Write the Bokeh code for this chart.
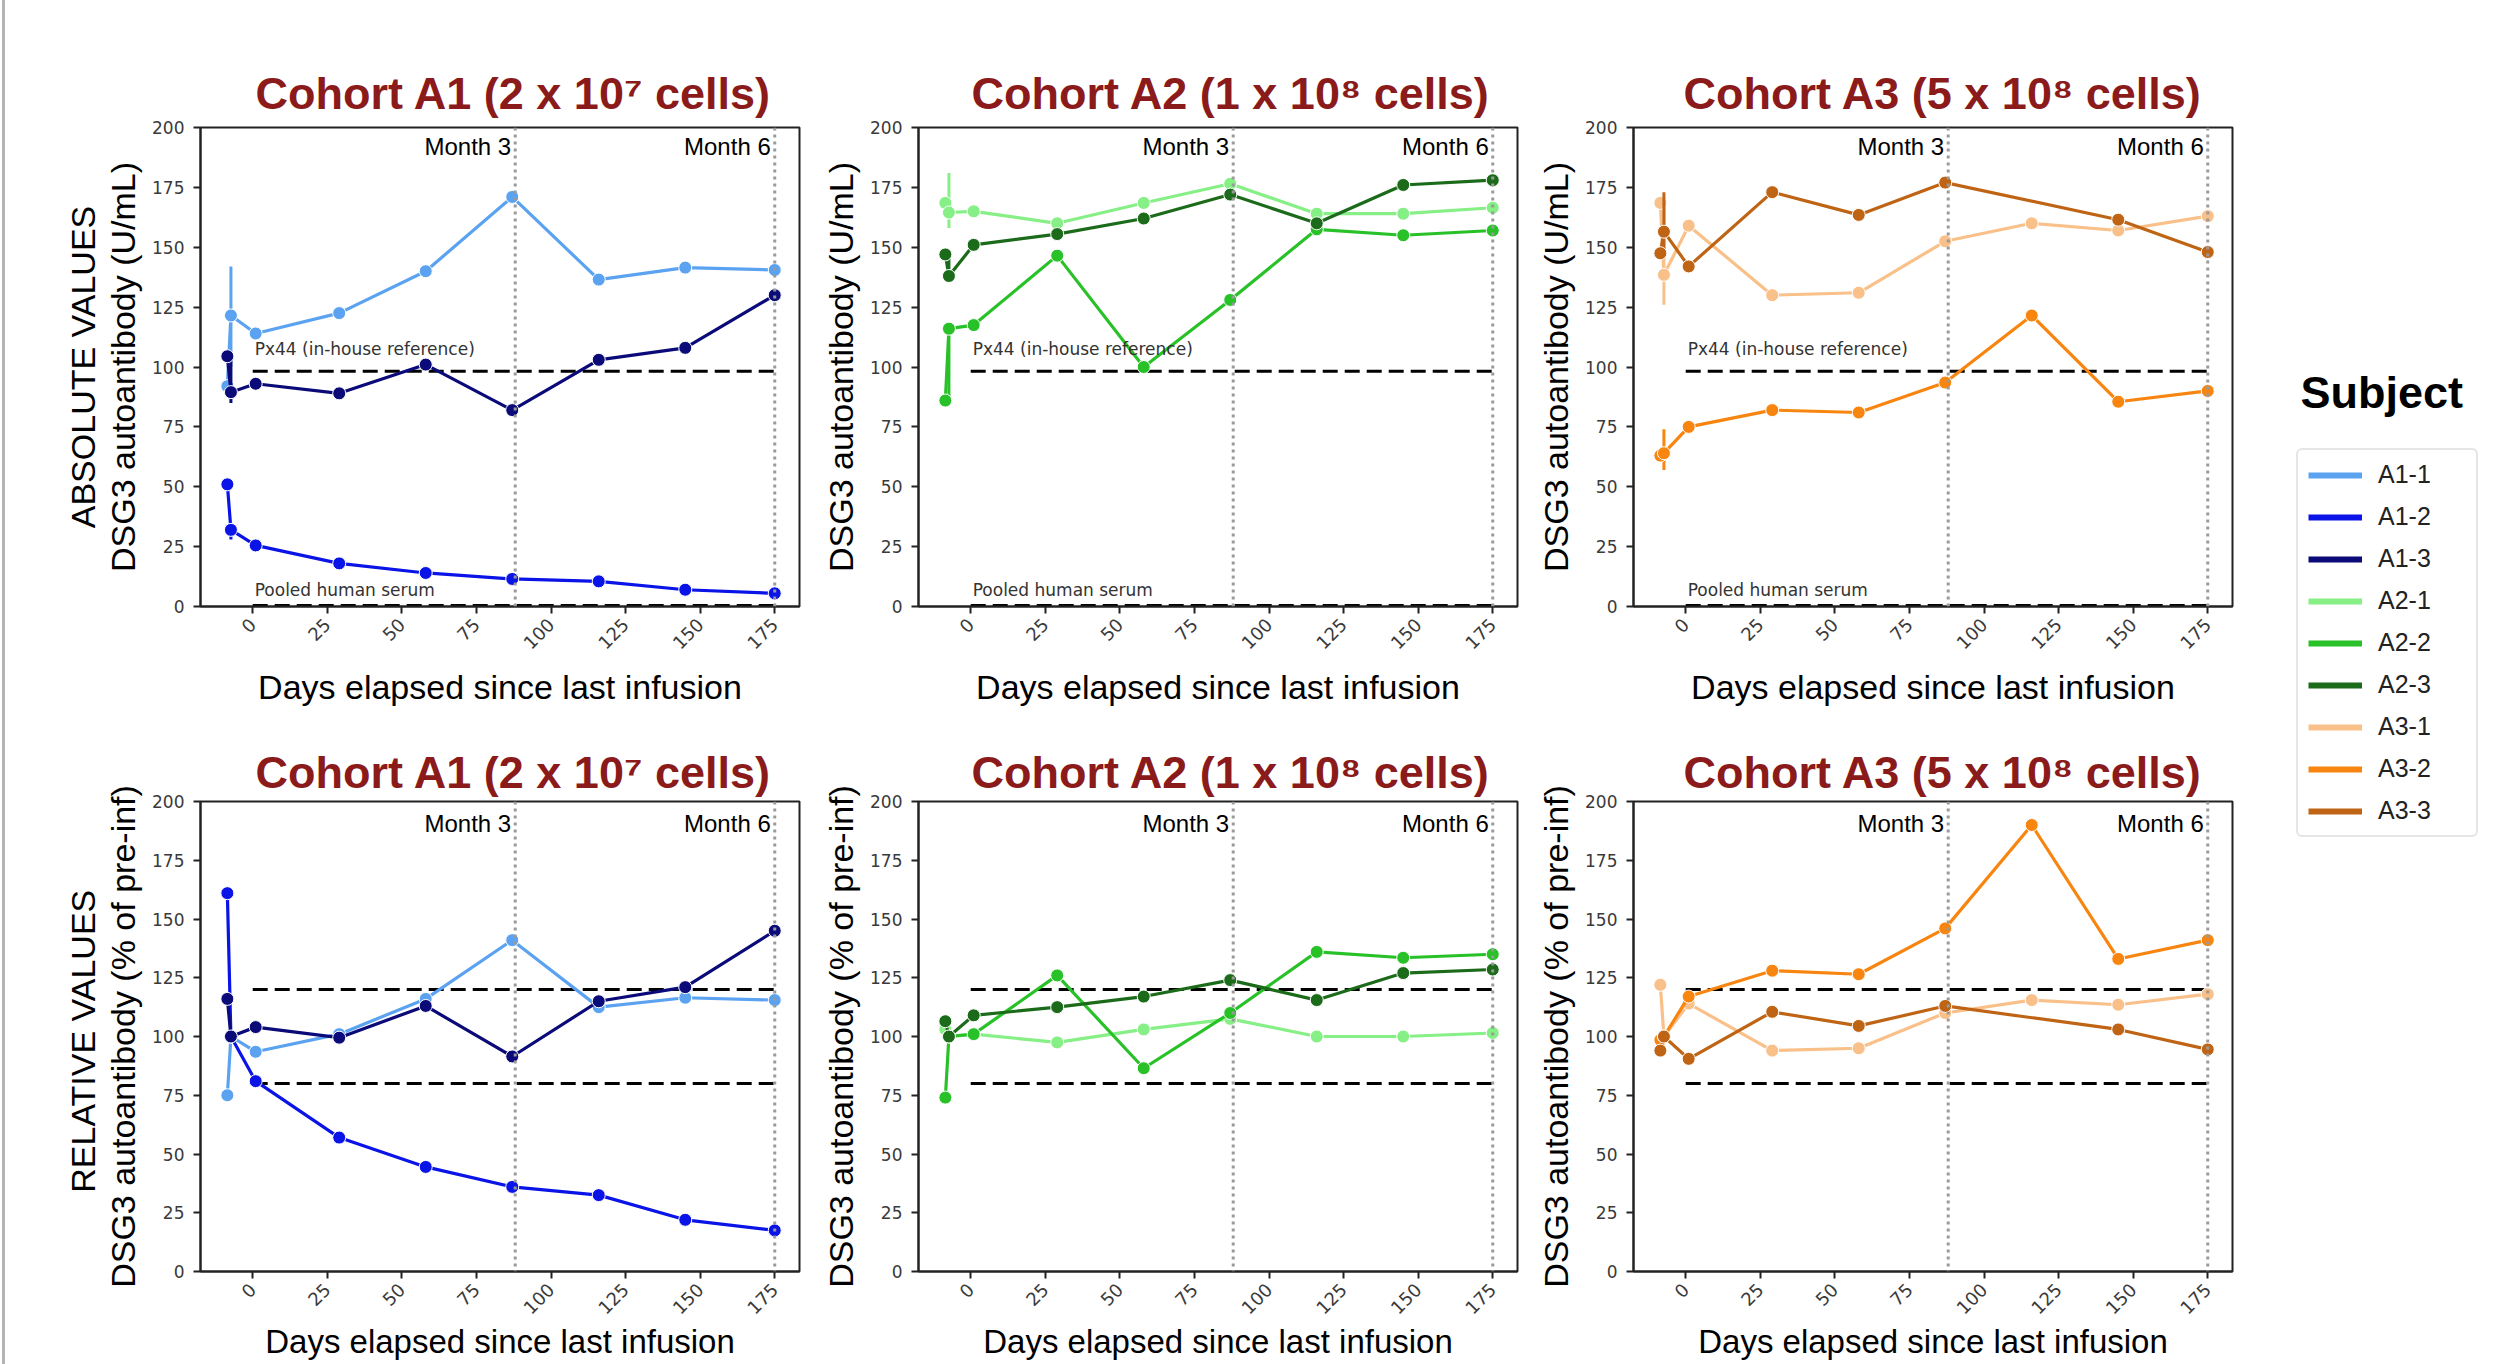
import math
from bokeh.plotting import figure
from bokeh.models import (Range1d, FixedTicker, Label, Span, Title, Legend,
                          LegendItem, ColumnDataSource, Div)
from bokeh.layouts import row, column
from bokeh.embed import file_html
from bokeh.resources import INLINE

# ---------------- data ----------------
SUBJECTS = ["A1-1", "A1-2", "A1-3", "A2-1", "A2-2", "A2-3", "A3-1", "A3-2", "A3-3"]
COLORS = ["#5BA3F0", "#0A14E6", "#0A0A78", "#86EF86", "#28C228", "#1B6B1B",
          "#F9C08A", "#F7850F", "#BF6414"]

DAYS = [-8.5, -7.3, 1, 29, 58, 87, 116, 145, 175]
DAYS_A3_3 = [-8.5, -7.3, 1, 29, 58, 87, 145, 175]   # no visit at day 116

# absolute values (U/mL)
ABS_A1_1 = [92, 121.5, 114, 122.5, 140, 171, 136.5, 141.5, 140.5]
ABS_A1_2 = [51, 32, 25.5, 18, 14, 11.5, 10.5, 7, 5.5]
ABS_A1_3 = [104.5, 89.5, 93, 89, 101, 82, 103, 108, 130]
ABS_A2_1 = [168.5, 164.5, 165, 160, 168.5, 176.5, 164, 164, 166.5]
ABS_A2_2 = [86, 116, 117.5, 146.5, 100, 128, 157.5, 155, 157]
ABS_A2_3 = [147, 138, 151, 155.5, 162, 172, 160, 176, 178]
ABS_A3_1 = [168.5, 138.5, 159, 130, 131, 152.5, 160, 157, 163]
ABS_A3_2 = [63, 64, 75, 82, 81, 93.5, 121.5, 85.5, 90]
ABS_A3_3 = [147.5, 156.5, 142, 173, 163.5, 177, 161.5, 148]

# pre-infusion spread (absolute)
PRE_DAY = -7.3
ABS_PRE_LOW = [100, 28, 85, 158, 86, 138, 126, 57, 147]
ABS_PRE_HIGH = [142, 32, 104, 181, 116, 147, 169, 74, 173]

# relative values (% of pre-infusion)
REL_A1_1 = [75, 100, 93.5, 101, 116, 141, 112.5, 116.5, 115.5]
REL_A1_2 = [161, 100, 81, 57, 44.5, 36, 32.5, 22, 17.5]
REL_A1_3 = [116, 100, 104, 99.5, 113, 91.5, 115, 121, 145]
REL_A2_1 = [103, 100, 101, 97.5, 103, 107.5, 100, 100, 101.5]
REL_A2_2 = [74, 100, 101, 126, 86.5, 110, 136, 133.5, 135]
REL_A2_3 = [106.5, 100, 109, 112.5, 117, 124, 115.5, 127, 128.5]
REL_A3_1 = [122, 100, 114, 94, 95, 110, 115.5, 113.5, 118]
REL_A3_2 = [98.5, 100, 117, 128, 126.5, 146, 190, 133, 141]
REL_A3_3 = [94, 100, 90.5, 110.5, 104.5, 113, 103, 94.5]

PX44_LEVEL = 98.2
POOLED_LEVEL = 0.4
REL_UPPER = 120
REL_LOWER = 80
REF_X = [0, 175]
MONTH3_DAY = 88
MONTH6_DAY = 175

X_TICKS = [0, 25, 50, 75, 100, 125, 150, 175]
Y_TICKS = [0, 25, 50, 75, 100, 125, 150, 175, 200]

COHORT_TITLES = ["Cohort A1 (2 x 10\u2077 cells)",
                 "Cohort A2 (1 x 10\u2078 cells)",
                 "Cohort A3 (5 x 10\u2078 cells)"]
ABS_SERIES = [ABS_A1_1, ABS_A1_2, ABS_A1_3, ABS_A2_1, ABS_A2_2, ABS_A2_3,
              ABS_A3_1, ABS_A3_2, ABS_A3_3]
REL_SERIES = [REL_A1_1, REL_A1_2, REL_A1_3, REL_A2_1, REL_A2_2, REL_A2_3,
              REL_A3_1, REL_A3_2, REL_A3_3]

X_LABEL = "Days elapsed since last infusion"
Y_LABEL_ABS = "DSG3 autoantibody (U/mL)"
Y_LABEL_REL = "DSG3 autoantibody (% of pre-inf)"

# ---------------- style ----------------
TITLE_RED = "#8B1A1A"
SANS = "Liberation Sans"
TICKFONT = "DejaVu Sans"
FRAME_W = 599
XR = (-17.5, 183.3)
LEFTS = [194, 100, 100]
RIGHTS = [19, 16, 46]
TITLE_OFFSETS = [55, 53, 50]
PAGE_H = 1364


def days_for(name):
    return DAYS_A3_3 if name == "A3-3" else DAYS


def make_panel(col, absolute):
    frame_h = 479 if absolute else 470
    top = 127 if absolute else 60
    bottom = 134 if absolute else 94
    p = figure(frame_width=FRAME_W, frame_height=frame_h,
               x_range=Range1d(*XR), y_range=Range1d(0, 200),
               output_backend="svg", toolbar_location=None,
               min_border_left=LEFTS[col], min_border_right=RIGHTS[col],
               min_border_top=top, min_border_bottom=bottom,
               title=COHORT_TITLES[col])
    p.title.align = "left"
    p.title.offset = TITLE_OFFSETS[col]
    p.title.text_font = SANS
    p.title.text_font_size = "45px"
    p.title.text_font_style = "bold"
    p.title.text_color = TITLE_RED
    p.title.standoff = 17 if absolute else 8

    p.xgrid.visible = False
    p.ygrid.visible = False
    p.outline_line_color = "#222222"
    p.outline_line_width = 2
    p.background_fill_color = "white"
    p.border_fill_color = "white"

    p.xaxis.ticker = FixedTicker(ticks=X_TICKS)
    p.yaxis.ticker = FixedTicker(ticks=Y_TICKS)
    p.xaxis.major_label_orientation = math.pi / 4
    for ax in (p.xaxis[0], p.yaxis[0]):
        ax.major_label_text_font = TICKFONT
        ax.major_label_text_color = "#3a3a3a"
        ax.major_tick_out = 7
        ax.major_tick_in = 0
        ax.minor_tick_out = 0
        ax.minor_tick_in = 0
        ax.major_tick_line_width = 2
        ax.major_tick_line_color = "#222222"
        ax.axis_line_width = 2
        ax.axis_line_color = "#222222"
        ax.axis_label_text_font = SANS
        ax.axis_label_text_font_style = "normal"
        ax.axis_label_text_color = "black"
    p.xaxis.major_label_text_font_size = "18px"
    p.yaxis.major_label_text_font_size = "17px"
    p.xaxis.major_label_standoff = 8
    p.yaxis.major_label_standoff = 9
    p.yaxis.axis_label = Y_LABEL_ABS if absolute else Y_LABEL_REL
    p.yaxis.axis_label_standoff = 7
    p.yaxis.axis_label_text_font_size = "34px"

    p.xaxis.axis_label = X_LABEL
    if absolute:
        p.xaxis.axis_label_standoff = 10
        p.xaxis.axis_label_text_font_size = "34px"
    else:
        p.xaxis.axis_label_standoff = 0
        p.xaxis.axis_label_text_font_size = "33px"

    if col == 0:
        p.add_layout(Title(text="ABSOLUTE VALUES" if absolute else "RELATIVE  VALUES",
                           align="center", text_font=SANS, text_font_size="34px",
                           text_font_style="normal", text_color="black",
                           standoff=0), "left")

    # reference lines
    levels = [PX44_LEVEL, POOLED_LEVEL] if absolute else [REL_UPPER, REL_LOWER]
    for lv in levels:
        p.line(REF_X, [lv, lv], line_color="black", line_width=3, line_dash="15 7")
    if absolute:
        p.add_layout(Label(x=REF_X[0], y=103.3, x_offset=2,
                           text="Px44 (in-house reference)", text_font=TICKFONT,
                           text_font_size="17px", text_color="#333333"))
        p.add_layout(Label(x=REF_X[0], y=2.8, x_offset=2,
                           text="Pooled human serum", text_font=TICKFONT,
                           text_font_size="17px", text_color="#333333"))

    # series
    series = ABS_SERIES if absolute else REL_SERIES
    for k in range(3 * col, 3 * col + 3):
        name = SUBJECTS[k]
        c = COLORS[k]
        if absolute:
            p.segment(x0=[PRE_DAY], y0=[ABS_PRE_LOW[k]], x1=[PRE_DAY],
                      y1=[ABS_PRE_HIGH[k]], line_color=c, line_width=3)
        src = ColumnDataSource(dict(day=days_for(name), val=series[k]))
        p.line("day", "val", source=src, line_color=c, line_width=3.2)
        p.scatter("day", "val", source=src, size=13, fill_color=c,
                  line_color="white", line_width=1)

    # month markers
    for d in (MONTH3_DAY, MONTH6_DAY):
        p.add_layout(Span(location=d, dimension="height", line_color="#9a9a9a",
                          line_width=3, line_dash="3 4"))
    my = 186.5 if absolute else 185
    p.add_layout(Label(x=MONTH3_DAY, y=my, x_offset=-4, text="Month 3",
                       text_align="right", text_font=SANS,
                       text_font_size="24px", text_color="black"))
    p.add_layout(Label(x=MONTH6_DAY, y=my, x_offset=-4, text="Month 6",
                       text_align="right", text_font=SANS,
                       text_font_size="24px", text_color="black"))
    return p


top_figs = [make_panel(i, True) for i in range(3)]
bot_figs = [make_panel(i, False) for i in range(3)]

# thin slide border at the far left
edge = Div(text="", width=6, height=PAGE_H, margin=0,
           styles={"background": "linear-gradient(90deg, #ffffff 0px, #ffffff 2px, "
                                 "#b4b4b4 2px, #b4b4b4 5px, #ffffff 5px)"})

# legend panel (its line renderers sit outside the visible range)
LG_W = 223
LG_X0 = 1000
lg = figure(width=LG_W, height=PAGE_H, x_range=Range1d(LG_X0, LG_X0 + LG_W),
            y_range=Range1d(0, PAGE_H), output_backend="svg",
            toolbar_location=None, min_border=0, title=None)
lg.axis.visible = False
lg.xgrid.visible = False
lg.ygrid.visible = False
lg.outline_line_color = None
items = []
for k, (name, c) in enumerate(zip(SUBJECTS, COLORS)):
    r = lg.line(x=days_for(name), y=ABS_SERIES[k], line_color=c, line_width=6)
    items.append(LegendItem(label=name, renderers=[r]))
leg = Legend(items=items, location=(18, 527), margin=0, padding=10,
             spacing=13, glyph_width=54, glyph_height=28, label_height=28,
             label_width=88, label_standoff=16,
             label_text_font=SANS, label_text_font_size="25px",
             label_text_color="#222222", border_line_color="#cccccc",
             border_line_width=2, background_fill_color="white",
             background_fill_alpha=1.0)
if "border_radius" in Legend.properties():
    leg.border_radius = 6
lg.add_layout(leg)
lg.add_layout(Label(x=LG_X0 + 22, y=947, text="Subject", text_font=SANS,
                    text_font_size="45px", text_font_style="bold",
                    text_color="black"))

page = row(edge, column(row(*top_figs), row(*bot_figs)), lg)
open("out.html", "w").write(file_html(page, INLINE, title="DSG3 autoantibody"))
